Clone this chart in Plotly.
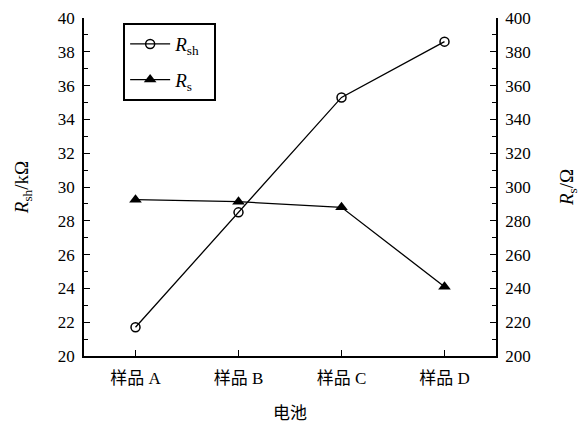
import plotly.graph_objects as go

categories = ["样品 A", "样品 B", "样品 C", "样品 D"]
rsh_values = [21.7, 28.5, 35.3, 38.6]   # kΩ, left axis
rs_values = [292.5, 291.3, 288.0, 241.0]  # Ω, right axis

SERIF = "'Liberation Serif', 'Times New Roman', 'Noto Sans CJK SC', serif"
TICKFONT = dict(family=SERIF, size=17, color="black")

fig = go.Figure()
fig.add_trace(go.Scatter(
    x=categories, y=rsh_values, name="<i>R</i><sub>sh</sub>&nbsp;&nbsp;",
    mode="lines+markers", legendgroup="a",
    line=dict(color="black", width=1.3),
    marker=dict(symbol="circle-open", size=9, color="black", line=dict(width=1.5)),
    yaxis="y",
))
fig.add_trace(go.Scatter(
    x=categories, y=rs_values, name="<i>R</i><sub>s</sub>",
    mode="lines+markers", legendgroup="b",
    line=dict(color="black", width=1.3),
    marker=dict(symbol="triangle-up", size=11, color="black"),
    yaxis="y2",
))

fig.update_layout(
    width=580, height=432,
    margin=dict(l=84, r=84, t=18, b=76, autoexpand=False),
    paper_bgcolor="white", plot_bgcolor="white",
    font=dict(family=SERIF, size=17, color="black"),
    showlegend=True,
    legend=dict(
        x=0.095, y=0.985, xanchor="left", yanchor="top",
        bordercolor="black", borderwidth=2, bgcolor="white",
        font=dict(family=SERIF, size=19, color="black"),
        traceorder="grouped", tracegroupgap=8,
        itemwidth=40,
    ),
    xaxis=dict(
        type="category", range=[-0.5, 3.5], automargin=False,
        showline=True, linecolor="black", linewidth=1.5,
        ticks="inside", ticklen=6, tickcolor="black", tickwidth=1.3,
        showgrid=False, zeroline=False,
        tickfont=TICKFONT, ticklabelstandoff=6,
        title=dict(text="电池", font=dict(family=SERIF, size=17), standoff=20),
    ),
    yaxis=dict(
        range=[20, 40], dtick=2, tick0=20, automargin=False,
        showline=True, linecolor="black", linewidth=1.5,
        ticks="inside", ticklen=6, tickcolor="black", tickwidth=1.3,
        minor=dict(dtick=1, ticks="inside", ticklen=4, tickcolor="black", tickwidth=1.2),
        showgrid=False, zeroline=False,
        tickfont=TICKFONT, ticklabelstandoff=4,
        title=dict(text="<i>R</i><sub>sh</sub>/kΩ", font=dict(family=SERIF, size=19), standoff=24),
    ),
    yaxis2=dict(
        range=[200, 400], dtick=20, tick0=200, automargin=False,
        overlaying="y", side="right",
        showline=True, linecolor="black", linewidth=1.5,
        ticks="inside", ticklen=6, tickcolor="black", tickwidth=1.3,
        minor=dict(dtick=10, ticks="inside", ticklen=4, tickcolor="black", tickwidth=1.2),
        showgrid=False, zeroline=False,
        tickfont=TICKFONT, ticklabelstandoff=4,
        title=dict(text="<i>R</i><sub>s</sub>/Ω", font=dict(family=SERIF, size=19), standoff=30),
    ),
)

fig.write_html(
    "out.html",
    config={"displayModeBar": False},
    post_script="document.body.style.margin='0px';document.body.style.overflow='hidden';",
)
